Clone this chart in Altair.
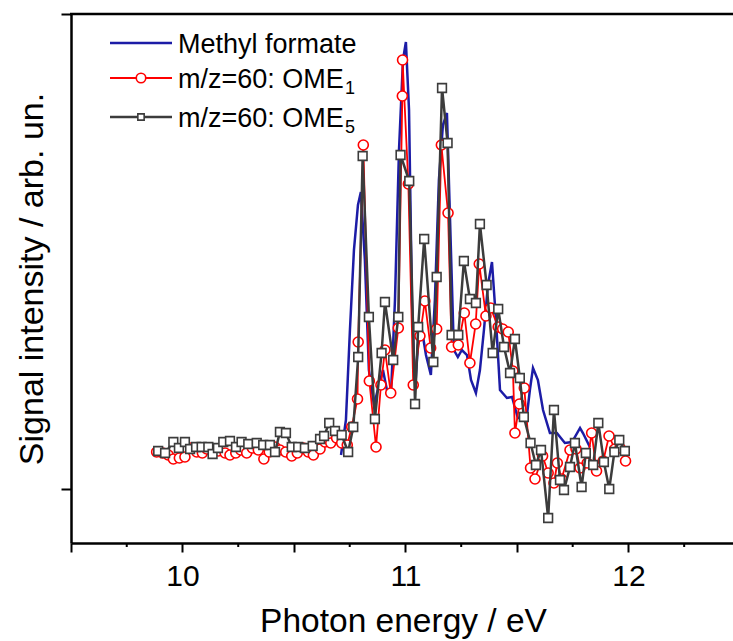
import altair as alt
import pandas as pd

# ---------------- data ----------------
BLUE_X = [10.711, 10.733, 10.751, 10.769, 10.787, 10.800, 10.818, 10.836, 10.859, 10.881,
          10.899, 10.917, 10.935, 10.953, 10.971, 10.989, 11.002, 11.016, 11.029, 11.043,
          11.056, 11.074, 11.092, 11.114, 11.132, 11.150, 11.168, 11.186, 11.200, 11.217,
          11.235, 11.253, 11.276, 11.294, 11.316, 11.334, 11.352, 11.370, 11.388, 11.406,
          11.424, 11.455, 11.478, 11.504, 11.527, 11.545, 11.558, 11.572, 11.594, 11.617,
          11.648, 11.679, 11.715, 11.747, 11.783, 11.796, 11.827]
BLUE_Y = [0.34, 0.69, 1.59, 2.39, 2.84, 2.97, 2.29, 1.19, 0.84, 1.04,
          1.19, 0.99, 0.94, 1.89, 3.39, 4.29, 4.47, 3.79, 1.89, 0.99,
          1.44, 1.59, 1.34, 1.14, 1.89, 3.09, 3.64, 3.76, 2.69, 1.39,
          1.32, 1.39, 1.34, 1.09, 0.96, 1.19, 1.59, 2.04, 2.27, 1.69,
          0.99, 0.91, 0.92, 0.71, 0.71, 0.74, 0.99, 1.21, 1.09, 0.79,
          0.56, 0.56, 0.46, 0.47, 0.61, 0.56, 0.42]

RED_X = [9.884, 9.911, 9.936, 9.959, 9.986, 10.011, 10.037, 10.064, 10.089, 10.109,
         10.134, 10.161, 10.191, 10.213, 10.239, 10.261, 10.288, 10.313, 10.340, 10.365,
         10.389, 10.415, 10.437, 10.463, 10.490, 10.515, 10.542, 10.564, 10.587, 10.617,
         10.639, 10.665, 10.691, 10.714, 10.739, 10.759, 10.785, 10.788, 10.811, 10.838,
         10.868, 10.890, 10.908, 10.934, 10.968, 10.986, 10.987, 11.013, 11.035, 11.065,
         11.087, 11.113, 11.140, 11.161, 11.191, 11.207, 11.237, 11.264, 11.289, 11.315,
         11.331, 11.361, 11.382, 11.416, 11.436, 11.461, 11.482, 11.491, 11.511, 11.533,
         11.561, 11.581, 11.615, 11.640, 11.666, 11.681, 11.700, 11.738, 11.765, 11.783,
         11.815, 11.835, 11.857, 11.887, 11.913, 11.939, 11.962, 11.987]
RED_Y = [0.37, 0.36, 0.34, 0.30, 0.31, 0.32, 0.41, 0.37, 0.36, 0.40,
         0.40, 0.38, 0.36, 0.34, 0.36, 0.39, 0.36, 0.41, 0.39, 0.30,
         0.37, 0.42, 0.39, 0.37, 0.33, 0.36, 0.41, 0.37, 0.34, 0.40,
         0.47, 0.46, 0.51, 0.46, 0.44, 0.62, 0.90, 1.47, 3.44, 1.08,
         0.42, 1.04, 1.39, 0.96, 1.61, 3.93, 4.29, 3.05, 1.04, 1.53,
         1.88, 1.41, 1.60, 3.44, 2.76, 1.42, 1.44, 1.76, 1.26, 1.65,
         2.25, 1.73, 1.81, 1.62, 1.60, 1.57, 1.18, 0.56, 0.85, 1.01,
         0.21, 0.10, 0.33, 0.16, 0.06, 0.26, 0.10, 0.39, 0.40, 0.21,
         0.26, 0.56, 0.18, 0.28, 0.53, 0.40, 0.41, 0.28]

GRAY_X = [9.891, 9.922, 9.959, 9.984, 10.011, 10.034, 10.061, 10.086, 10.116, 10.135,
          10.159, 10.183, 10.213, 10.240, 10.265, 10.295, 10.333, 10.362, 10.392, 10.415,
          10.437, 10.464, 10.490, 10.519, 10.549, 10.584, 10.617, 10.635, 10.658, 10.684,
          10.714, 10.743, 10.766, 10.788, 10.808, 10.836, 10.863, 10.893, 10.908, 10.945,
          10.968, 10.978, 11.017, 11.043, 11.057, 11.084, 11.125, 11.140, 11.164, 11.189,
          11.207, 11.237, 11.262, 11.289, 11.316, 11.334, 11.364, 11.391, 11.416, 11.442,
          11.469, 11.491, 11.513, 11.531, 11.561, 11.585, 11.608, 11.640, 11.666, 11.693,
          11.711, 11.738, 11.760, 11.790, 11.809, 11.842, 11.865, 11.890, 11.914, 11.937,
          11.959, 11.984]
GRAY_Y = [0.38, 0.36, 0.47, 0.41, 0.47, 0.40, 0.42, 0.42, 0.42, 0.35,
          0.41, 0.47, 0.48, 0.42, 0.47, 0.45, 0.46, 0.44, 0.44, 0.37,
          0.57, 0.56, 0.42, 0.42, 0.41, 0.43, 0.50, 0.53, 0.66, 0.58,
          0.54, 0.37, 0.62, 1.32, 3.33, 1.72, 0.70, 1.36, 1.87, 1.29,
          1.72, 3.34, 3.08, 0.85, 1.62, 2.50, 1.27, 2.12, 4.01, 3.46,
          1.54, 1.54, 2.28, 1.90, 1.86, 2.65, 2.04, 1.36, 1.80, 1.42,
          1.16, 1.50, 1.11, 0.72, 0.46, 0.24, 0.39, -0.29, 0.79, 0.09,
          -0.01, 0.22, 0.46, 0.02, 0.36, 0.24, 0.66, 0.27, 0.00, 0.37,
          0.49, 0.38]

SERIES_LABELS = ["Methyl formate", "m/z=60: OME", "m/z=60: OME"]
SUBSCRIPTS = ["", "1", "5"]
MAJOR_TICKS = [9.5, 10.0, 10.5, 11.0, 11.5, 12.0]
MINOR_TICKS = [9.75, 10.25, 10.75, 11.25, 11.75, 12.25]
X_DOMAIN = [9.5, 12.469]
Y_DOMAIN = [-0.54, 4.75]
Y_TICKS = [0, 4.75]

W, H = 662, 529
FONT = "Liberation Sans"
BLUE, RED, GRAY = "#1c1ca6", "#ff0000", "#3c3c3c"

blue_df = pd.DataFrame({"x": BLUE_X, "y": BLUE_Y, "i": range(len(BLUE_X))})
red_df = pd.DataFrame({"x": RED_X, "y": RED_Y, "i": range(len(RED_X))})
gray_df = pd.DataFrame({"x": GRAY_X, "y": GRAY_Y, "i": range(len(GRAY_X))})

xscale = alt.Scale(domain=X_DOMAIN, nice=False, zero=False)
yscale = alt.Scale(domain=Y_DOMAIN, nice=False, zero=False)

xaxis = alt.Axis(values=MAJOR_TICKS,
                 labelExpr="datum.value % 1 == 0 ? format(datum.value, 'd') : ''",
                 tickSize=9, tickWidth=2, tickColor="black", domainColor="black",
                 domainWidth=2.5, labelFont=FONT, labelFontSize=30, labelColor="black",
                 labelBaseline="alphabetic", labelPadding=33, labelFlush=False,
                 labelOverlap=False, grid=False,
                 title="Photon energy / eV", titleFont=FONT, titleFontSize=33.5,
                 titleFontWeight="normal", titleColor="black",
                 titleBaseline="alphabetic", titleY=88, titleX=W / 2 + 1)
yaxis = alt.Axis(values=Y_TICKS, labels=False, tickSize=10, tickWidth=2, tickColor="black",
                 domainColor="black", domainWidth=2.5, grid=False,
                 title="Signal intensity / arb. un.", titleFont=FONT, titleFontSize=34,
                 titleFontWeight="normal", titleColor="black", titleAngle=-90,
                 titleBaseline="middle", titleAlign="center", titleX=-39, titleY=H / 2)

X = alt.X("x:Q", scale=xscale, axis=xaxis)
Y = alt.Y("y:Q", scale=yscale, axis=yaxis)

blue_line = alt.Chart(blue_df).mark_line(color=BLUE, strokeWidth=2.5).encode(
    x=X, y=Y, order="i:Q")
red_line = alt.Chart(red_df).mark_line(color=RED, strokeWidth=1.8).encode(
    x=X, y=Y, order="i:Q")
red_pts = alt.Chart(red_df).mark_point(shape="circle", filled=False, fill="white",
                                       fillOpacity=1, stroke=RED, strokeWidth=1.6,
                                       size=100, opacity=1).encode(x=X, y=Y)
gray_line = alt.Chart(gray_df).mark_line(color=GRAY, strokeWidth=2.5).encode(
    x=X, y=Y, order="i:Q")
gray_pts = alt.Chart(gray_df).mark_point(shape="square", filled=False, fill="white",
                                         fillOpacity=1, stroke=GRAY, strokeWidth=1.6,
                                         size=76, opacity=1).encode(x=X, y=Y)

minor = alt.Chart(pd.DataFrame({"x": MINOR_TICKS})).mark_rule(
    color="black", strokeWidth=2).encode(x=X, y=alt.value(H), y2=alt.value(H + 4))

one = alt.Data(values=[{}])
top_frame = alt.Chart(one).mark_rule(color="black", strokeWidth=2.5).encode(
    x=alt.value(-1), x2=alt.value(W + 2), y=alt.value(0))

# legend (drawn by hand because of the subscripts)
LEG_Y = [29, 64, 103]
LEG_COL = [BLUE, RED, GRAY]
legend_layers = []
for k in range(3):
    legend_layers.append(alt.Chart(one).mark_rule(color=LEG_COL[k], strokeWidth=2.5 if k != 1 else 1.8).encode(
        x=alt.value(39), x2=alt.value(101), y=alt.value(LEG_Y[k])))
    legend_layers.append(alt.Chart(one).mark_text(
        text=SERIES_LABELS[k], font=FONT, fontSize=27, align="left", baseline="alphabetic",
        color="black").encode(x=alt.value(107), y=alt.value(LEG_Y[k] + 10)))
    if SUBSCRIPTS[k]:
        legend_layers.append(alt.Chart(one).mark_text(
            text=SUBSCRIPTS[k], font=FONT, fontSize=18, align="left", baseline="alphabetic",
            color="black").encode(x=alt.value(274), y=alt.value(LEG_Y[k] + 16)))
legend_layers.append(alt.Chart(one).mark_point(shape="circle", filled=False, fill="white",
                                               fillOpacity=1, stroke=RED, strokeWidth=1.6,
                                               size=90, opacity=1).encode(
    x=alt.value(70), y=alt.value(LEG_Y[1])))
legend_layers.append(alt.Chart(one).mark_point(shape="square", filled=False, fill="white",
                                               fillOpacity=1, stroke=GRAY, strokeWidth=1.6,
                                               size=40, opacity=1).encode(
    x=alt.value(70), y=alt.value(LEG_Y[2])))

chart = alt.layer(blue_line, red_line, red_pts, gray_line, gray_pts, minor, top_frame,
                  *legend_layers).properties(
    width=W, height=H,
    padding={"left": 71, "top": 14, "right": 0, "bottom": 98},
    autosize=alt.AutoSizeParams(type="none"),
).configure_view(stroke=None).configure(background="white")

chart.save("out.html", embed_options={"renderer": "svg", "actions": False})
